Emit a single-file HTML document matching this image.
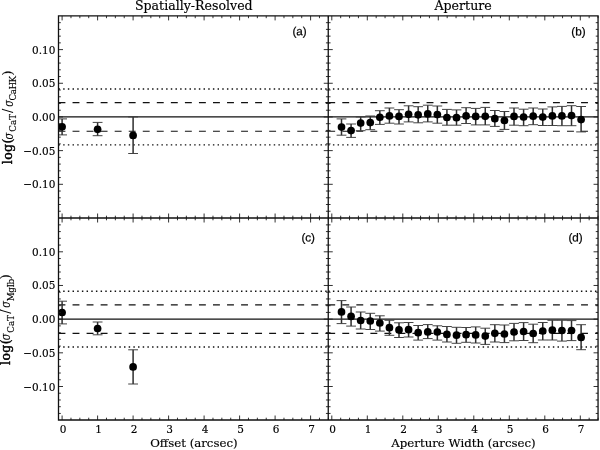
<!DOCTYPE html>
<html lang="en"><head><meta charset="utf-8"><title>Velocity dispersion ratios</title>
<style>html,body{margin:0;padding:0;background:#fff}body{width:600px;height:450px;overflow:hidden}svg{display:block}</style></head>
<body>
<svg width="600" height="450" viewBox="0 0 600 450">
<rect width="600" height="450" fill="#fff"/>
<path d="M58.5 116.95H328.25" stroke="#111" stroke-width="1.18" fill="none"/>
<path d="M58.5 102.67H328.25" stroke="#111" stroke-width="1.18" fill="none" stroke-dasharray="6.9 7.145"/>
<path d="M58.5 89.07H328.25" stroke="#111" fill="none" stroke-dasharray="1.45 3.229" stroke-width="1.4"/>
<path d="M58.5 131.23H328.25" stroke="#111" stroke-width="1.18" fill="none" stroke-dasharray="6.9 7.145"/>
<path d="M58.5 144.83H328.25" stroke="#111" fill="none" stroke-dasharray="1.45 3.229" stroke-width="1.4"/>
<path d="M58.5 319.15H328.25" stroke="#111" stroke-width="1.18" fill="none"/>
<path d="M58.5 304.87H328.25" stroke="#111" stroke-width="1.18" fill="none" stroke-dasharray="6.9 7.145"/>
<path d="M58.5 291.27H328.25" stroke="#111" fill="none" stroke-dasharray="1.45 3.229" stroke-width="1.4"/>
<path d="M58.5 333.43H328.25" stroke="#111" stroke-width="1.18" fill="none" stroke-dasharray="6.9 7.145"/>
<path d="M58.5 347.03H328.25" stroke="#111" fill="none" stroke-dasharray="1.45 3.229" stroke-width="1.4"/>
<path d="M328.25 116.95H598.05" stroke="#111" stroke-width="1.18" fill="none"/>
<path d="M328.25 102.67H598.05" stroke="#111" stroke-width="1.18" fill="none" stroke-dasharray="6.9 7.145"/>
<path d="M328.25 89.07H598.05" stroke="#111" fill="none" stroke-dasharray="1.45 3.229" stroke-width="1.4"/>
<path d="M328.25 131.23H598.05" stroke="#111" stroke-width="1.18" fill="none" stroke-dasharray="6.9 7.145"/>
<path d="M328.25 144.83H598.05" stroke="#111" fill="none" stroke-dasharray="1.45 3.229" stroke-width="1.4"/>
<path d="M328.25 319.15H598.05" stroke="#111" stroke-width="1.18" fill="none"/>
<path d="M328.25 304.87H598.05" stroke="#111" stroke-width="1.18" fill="none" stroke-dasharray="6.9 7.145"/>
<path d="M328.25 291.27H598.05" stroke="#111" fill="none" stroke-dasharray="1.45 3.229" stroke-width="1.4"/>
<path d="M328.25 333.43H598.05" stroke="#111" stroke-width="1.18" fill="none" stroke-dasharray="6.9 7.145"/>
<path d="M328.25 347.03H598.05" stroke="#111" fill="none" stroke-dasharray="1.45 3.229" stroke-width="1.4"/>
<clipPath id="cl"><rect x="58.5" y="15.9" width="269.75" height="404.1"/></clipPath>
<g clip-path="url(#cl)">
<path d="M62.1 118.9V134.9M97.6 122.4V135.7M133.1 116.9V153.5" stroke="#2e2e2e" stroke-width="1.5" fill="none"/>
<path d="M57.2 118.9H67M57.2 134.9H67M92.7 122.4H102.5M92.7 135.7H102.5M128.2 116.9H138M128.2 153.5H138" stroke="#3a3a3a" stroke-width="0.95" fill="none"/>
<g fill="#000"><circle cx="62.1" cy="126.8" r="3.85"/><circle cx="97.6" cy="129.3" r="3.85"/><circle cx="133.1" cy="135.4" r="3.85"/></g>
<path d="M62.1 301.2V323.9M97.6 322V334.8M133.1 349.8V384" stroke="#2e2e2e" stroke-width="1.5" fill="none"/>
<path d="M57.2 301.2H67M57.2 323.9H67M92.7 322H102.5M92.7 334.8H102.5M128.2 349.8H138M128.2 384H138" stroke="#3a3a3a" stroke-width="0.95" fill="none"/>
<g fill="#000"><circle cx="62.1" cy="312.5" r="3.85"/><circle cx="97.6" cy="328.5" r="3.85"/><circle cx="133.1" cy="366.9" r="3.85"/></g>
</g>
<path d="M341.5 118.9V135.2M351.08 124V137.4M360.67 116.9V130.7M370.25 116V129.7M379.84 110.7V124.4M389.42 108V123.2M399 109.7V124M408.59 105.8V121.9M418.17 106.7V122.8M427.76 105.2V121.9M437.34 106V123.2M446.92 109.4V125.2M456.51 109.9V125.2M466.09 107.7V123.5M475.68 108.4V124.9M485.26 107.4V124.9M494.84 110.5V126.4M504.43 111.5V129.4M514.01 108V125.2M523.6 109.2V125.7M533.18 108V124.7M542.76 109V125.5M552.35 106.9V125.5M561.93 106.4V125.7M571.52 105.7V125.7M581.1 106.5V131.9" stroke="#2e2e2e" stroke-width="1.5" fill="none"/>
<path d="M336.6 118.9H346.4M336.6 135.2H346.4M346.18 124H355.98M346.18 137.4H355.98M355.77 116.9H365.57M355.77 130.7H365.57M365.35 116H375.15M365.35 129.7H375.15M374.94 110.7H384.74M374.94 124.4H384.74M384.52 108H394.32M384.52 123.2H394.32M394.1 109.7H403.9M394.1 124H403.9M403.69 105.8H413.49M403.69 121.9H413.49M413.27 106.7H423.07M413.27 122.8H423.07M422.86 105.2H432.66M422.86 121.9H432.66M432.44 106H442.24M432.44 123.2H442.24M442.02 109.4H451.82M442.02 125.2H451.82M451.61 109.9H461.41M451.61 125.2H461.41M461.19 107.7H470.99M461.19 123.5H470.99M470.78 108.4H480.58M470.78 124.9H480.58M480.36 107.4H490.16M480.36 124.9H490.16M489.94 110.5H499.74M489.94 126.4H499.74M499.53 111.5H509.33M499.53 129.4H509.33M509.11 108H518.91M509.11 125.2H518.91M518.7 109.2H528.5M518.7 125.7H528.5M528.28 108H538.08M528.28 124.7H538.08M537.86 109H547.66M537.86 125.5H547.66M547.45 106.9H557.25M547.45 125.5H557.25M557.03 106.4H566.83M557.03 125.7H566.83M566.62 105.7H576.42M566.62 125.7H576.42M576.2 106.5H586M576.2 131.9H586" stroke="#3a3a3a" stroke-width="0.95" fill="none"/>
<g fill="#000"><circle cx="341.5" cy="127.1" r="3.85"/><circle cx="351.08" cy="130.6" r="3.85"/><circle cx="360.67" cy="123.1" r="3.85"/><circle cx="370.25" cy="122.6" r="3.85"/><circle cx="379.84" cy="117.3" r="3.85"/><circle cx="389.42" cy="115.9" r="3.85"/><circle cx="399" cy="116.4" r="3.85"/><circle cx="408.59" cy="114.3" r="3.85"/><circle cx="418.17" cy="114.8" r="3.85"/><circle cx="427.76" cy="113.9" r="3.85"/><circle cx="437.34" cy="114.6" r="3.85"/><circle cx="446.92" cy="117.5" r="3.85"/><circle cx="456.51" cy="117.7" r="3.85"/><circle cx="466.09" cy="115.9" r="3.85"/><circle cx="475.68" cy="116.4" r="3.85"/><circle cx="485.26" cy="116.3" r="3.85"/><circle cx="494.84" cy="118.7" r="3.85"/><circle cx="504.43" cy="120.5" r="3.85"/><circle cx="514.01" cy="116.4" r="3.85"/><circle cx="523.6" cy="117" r="3.85"/><circle cx="533.18" cy="116.2" r="3.85"/><circle cx="542.76" cy="117.1" r="3.85"/><circle cx="552.35" cy="115.9" r="3.85"/><circle cx="561.93" cy="115.9" r="3.85"/><circle cx="571.52" cy="115.6" r="3.85"/><circle cx="581.1" cy="119.6" r="3.85"/></g>
<path d="M341.5 300.6V323.6M351.08 307V326.1M360.67 312V329M370.25 313.3V329.5M379.84 315.8V331.1M389.42 320.3V335.3M399 322.8V337.5M408.59 322.5V337M418.17 325.5V340.1M427.76 324.6V338.6M437.34 325.8V340.1M446.92 326.5V342M456.51 327.3V343.3M466.09 327.5V342.3M475.68 326.9V343M485.26 328.2V344.4M494.84 324.7V342M504.43 325V342.6M514.01 323.4V340.8M523.6 322.6V340.5M533.18 324.2V342.7M542.76 322.5V340M552.35 320.3V340M561.93 320.3V341.1M571.52 320.6V340.6M581.1 324.7V349.7" stroke="#2e2e2e" stroke-width="1.5" fill="none"/>
<path d="M336.6 300.6H346.4M336.6 323.6H346.4M346.18 307H355.98M346.18 326.1H355.98M355.77 312H365.57M355.77 329H365.57M365.35 313.3H375.15M365.35 329.5H375.15M374.94 315.8H384.74M374.94 331.1H384.74M384.52 320.3H394.32M384.52 335.3H394.32M394.1 322.8H403.9M394.1 337.5H403.9M403.69 322.5H413.49M403.69 337H413.49M413.27 325.5H423.07M413.27 340.1H423.07M422.86 324.6H432.66M422.86 338.6H432.66M432.44 325.8H442.24M432.44 340.1H442.24M442.02 326.5H451.82M442.02 342H451.82M451.61 327.3H461.41M451.61 343.3H461.41M461.19 327.5H470.99M461.19 342.3H470.99M470.78 326.9H480.58M470.78 343H480.58M480.36 328.2H490.16M480.36 344.4H490.16M489.94 324.7H499.74M489.94 342H499.74M499.53 325H509.33M499.53 342.6H509.33M509.11 323.4H518.91M509.11 340.8H518.91M518.7 322.6H528.5M518.7 340.5H528.5M528.28 324.2H538.08M528.28 342.7H538.08M537.86 322.5H547.66M537.86 340H547.66M547.45 320.3H557.25M547.45 340H557.25M557.03 320.3H566.83M557.03 341.1H566.83M566.62 320.6H576.42M566.62 340.6H576.42M576.2 324.7H586M576.2 349.7H586" stroke="#3a3a3a" stroke-width="0.95" fill="none"/>
<g fill="#000"><circle cx="341.5" cy="311.9" r="3.85"/><circle cx="351.08" cy="316.4" r="3.85"/><circle cx="360.67" cy="320.5" r="3.85"/><circle cx="370.25" cy="321" r="3.85"/><circle cx="379.84" cy="323" r="3.85"/><circle cx="389.42" cy="327.7" r="3.85"/><circle cx="399" cy="329.9" r="3.85"/><circle cx="408.59" cy="329.7" r="3.85"/><circle cx="418.17" cy="332.7" r="3.85"/><circle cx="427.76" cy="331.9" r="3.85"/><circle cx="437.34" cy="332" r="3.85"/><circle cx="446.92" cy="334.4" r="3.85"/><circle cx="456.51" cy="335.2" r="3.85"/><circle cx="466.09" cy="334.7" r="3.85"/><circle cx="475.68" cy="334.9" r="3.85"/><circle cx="485.26" cy="336.1" r="3.85"/><circle cx="494.84" cy="333.3" r="3.85"/><circle cx="504.43" cy="334" r="3.85"/><circle cx="514.01" cy="332" r="3.85"/><circle cx="523.6" cy="331.5" r="3.85"/><circle cx="533.18" cy="333.5" r="3.85"/><circle cx="542.76" cy="331" r="3.85"/><circle cx="552.35" cy="330.2" r="3.85"/><circle cx="561.93" cy="330.5" r="3.85"/><circle cx="571.52" cy="330.5" r="3.85"/><circle cx="581.1" cy="337.4" r="3.85"/></g>
<path d="M62.1 15.9v4.5M62.1 213.5v9M62.1 420v-4.5M70.97 15.9v2.3M70.97 215.7v4.6M70.97 420v-2.3M79.85 15.9v2.3M79.85 215.7v4.6M79.85 420v-2.3M88.72 15.9v2.3M88.72 215.7v4.6M88.72 420v-2.3M97.6 15.9v4.5M97.6 213.5v9M97.6 420v-4.5M106.47 15.9v2.3M106.47 215.7v4.6M106.47 420v-2.3M115.35 15.9v2.3M115.35 215.7v4.6M115.35 420v-2.3M124.22 15.9v2.3M124.22 215.7v4.6M124.22 420v-2.3M133.1 15.9v4.5M133.1 213.5v9M133.1 420v-4.5M141.97 15.9v2.3M141.97 215.7v4.6M141.97 420v-2.3M150.85 15.9v2.3M150.85 215.7v4.6M150.85 420v-2.3M159.72 15.9v2.3M159.72 215.7v4.6M159.72 420v-2.3M168.6 15.9v4.5M168.6 213.5v9M168.6 420v-4.5M177.47 15.9v2.3M177.47 215.7v4.6M177.47 420v-2.3M186.35 15.9v2.3M186.35 215.7v4.6M186.35 420v-2.3M195.22 15.9v2.3M195.22 215.7v4.6M195.22 420v-2.3M204.1 15.9v4.5M204.1 213.5v9M204.1 420v-4.5M212.97 15.9v2.3M212.97 215.7v4.6M212.97 420v-2.3M221.85 15.9v2.3M221.85 215.7v4.6M221.85 420v-2.3M230.72 15.9v2.3M230.72 215.7v4.6M230.72 420v-2.3M239.6 15.9v4.5M239.6 213.5v9M239.6 420v-4.5M248.47 15.9v2.3M248.47 215.7v4.6M248.47 420v-2.3M257.35 15.9v2.3M257.35 215.7v4.6M257.35 420v-2.3M266.23 15.9v2.3M266.23 215.7v4.6M266.23 420v-2.3M275.1 15.9v4.5M275.1 213.5v9M275.1 420v-4.5M283.98 15.9v2.3M283.98 215.7v4.6M283.98 420v-2.3M292.85 15.9v2.3M292.85 215.7v4.6M292.85 420v-2.3M301.73 15.9v2.3M301.73 215.7v4.6M301.73 420v-2.3M310.6 15.9v4.5M310.6 213.5v9M310.6 420v-4.5M319.48 15.9v2.3M319.48 215.7v4.6M319.48 420v-2.3M328.35 15.9v2.3M328.35 215.7v4.6M328.35 420v-2.3M331.8 15.9v4.5M331.8 213.5v9M331.8 420v-4.5M340.68 15.9v2.3M340.68 215.7v4.6M340.68 420v-2.3M349.55 15.9v2.3M349.55 215.7v4.6M349.55 420v-2.3M358.43 15.9v2.3M358.43 215.7v4.6M358.43 420v-2.3M367.3 15.9v4.5M367.3 213.5v9M367.3 420v-4.5M376.18 15.9v2.3M376.18 215.7v4.6M376.18 420v-2.3M385.05 15.9v2.3M385.05 215.7v4.6M385.05 420v-2.3M393.93 15.9v2.3M393.93 215.7v4.6M393.93 420v-2.3M402.8 15.9v4.5M402.8 213.5v9M402.8 420v-4.5M411.68 15.9v2.3M411.68 215.7v4.6M411.68 420v-2.3M420.55 15.9v2.3M420.55 215.7v4.6M420.55 420v-2.3M429.43 15.9v2.3M429.43 215.7v4.6M429.43 420v-2.3M438.3 15.9v4.5M438.3 213.5v9M438.3 420v-4.5M447.18 15.9v2.3M447.18 215.7v4.6M447.18 420v-2.3M456.05 15.9v2.3M456.05 215.7v4.6M456.05 420v-2.3M464.93 15.9v2.3M464.93 215.7v4.6M464.93 420v-2.3M473.8 15.9v4.5M473.8 213.5v9M473.8 420v-4.5M482.68 15.9v2.3M482.68 215.7v4.6M482.68 420v-2.3M491.55 15.9v2.3M491.55 215.7v4.6M491.55 420v-2.3M500.43 15.9v2.3M500.43 215.7v4.6M500.43 420v-2.3M509.3 15.9v4.5M509.3 213.5v9M509.3 420v-4.5M518.17 15.9v2.3M518.17 215.7v4.6M518.17 420v-2.3M527.05 15.9v2.3M527.05 215.7v4.6M527.05 420v-2.3M535.92 15.9v2.3M535.92 215.7v4.6M535.92 420v-2.3M544.8 15.9v4.5M544.8 213.5v9M544.8 420v-4.5M553.67 15.9v2.3M553.67 215.7v4.6M553.67 420v-2.3M562.55 15.9v2.3M562.55 215.7v4.6M562.55 420v-2.3M571.42 15.9v2.3M571.42 215.7v4.6M571.42 420v-2.3M580.3 15.9v4.5M580.3 213.5v9M580.3 420v-4.5M589.17 15.9v2.3M589.17 215.7v4.6M589.17 420v-2.3M598.05 15.9v2.3M598.05 215.7v4.6M598.05 420v-2.3M58.5 211.24h2.3M325.95 211.24h4.6M598.05 211.24h-2.3M58.5 204.5h2.3M325.95 204.5h4.6M598.05 204.5h-2.3M58.5 197.77h2.3M325.95 197.77h4.6M598.05 197.77h-2.3M58.5 191.03h2.3M325.95 191.03h4.6M598.05 191.03h-2.3M58.5 184.3h4.5M323.75 184.3h9M598.05 184.3h-4.5M58.5 177.56h2.3M325.95 177.56h4.6M598.05 177.56h-2.3M58.5 170.83h2.3M325.95 170.83h4.6M598.05 170.83h-2.3M58.5 164.09h2.3M325.95 164.09h4.6M598.05 164.09h-2.3M58.5 157.36h2.3M325.95 157.36h4.6M598.05 157.36h-2.3M58.5 150.62h4.5M323.75 150.62h9M598.05 150.62h-4.5M58.5 143.89h2.3M325.95 143.89h4.6M598.05 143.89h-2.3M58.5 137.16h2.3M325.95 137.16h4.6M598.05 137.16h-2.3M58.5 130.42h2.3M325.95 130.42h4.6M598.05 130.42h-2.3M58.5 123.69h2.3M325.95 123.69h4.6M598.05 123.69h-2.3M58.5 116.95h4.5M323.75 116.95h9M598.05 116.95h-4.5M58.5 110.22h2.3M325.95 110.22h4.6M598.05 110.22h-2.3M58.5 103.48h2.3M325.95 103.48h4.6M598.05 103.48h-2.3M58.5 96.75h2.3M325.95 96.75h4.6M598.05 96.75h-2.3M58.5 90.01h2.3M325.95 90.01h4.6M598.05 90.01h-2.3M58.5 83.28h4.5M323.75 83.28h9M598.05 83.28h-4.5M58.5 76.54h2.3M325.95 76.54h4.6M598.05 76.54h-2.3M58.5 69.81h2.3M325.95 69.81h4.6M598.05 69.81h-2.3M58.5 63.07h2.3M325.95 63.07h4.6M598.05 63.07h-2.3M58.5 56.34h2.3M325.95 56.34h4.6M598.05 56.34h-2.3M58.5 49.6h4.5M323.75 49.6h9M598.05 49.6h-4.5M58.5 42.87h2.3M325.95 42.87h4.6M598.05 42.87h-2.3M58.5 36.13h2.3M325.95 36.13h4.6M598.05 36.13h-2.3M58.5 29.39h2.3M325.95 29.39h4.6M598.05 29.39h-2.3M58.5 22.66h2.3M325.95 22.66h4.6M598.05 22.66h-2.3M58.5 413.44h2.3M325.95 413.44h4.6M598.05 413.44h-2.3M58.5 406.7h2.3M325.95 406.7h4.6M598.05 406.7h-2.3M58.5 399.97h2.3M325.95 399.97h4.6M598.05 399.97h-2.3M58.5 393.23h2.3M325.95 393.23h4.6M598.05 393.23h-2.3M58.5 386.5h4.5M323.75 386.5h9M598.05 386.5h-4.5M58.5 379.76h2.3M325.95 379.76h4.6M598.05 379.76h-2.3M58.5 373.03h2.3M325.95 373.03h4.6M598.05 373.03h-2.3M58.5 366.29h2.3M325.95 366.29h4.6M598.05 366.29h-2.3M58.5 359.56h2.3M325.95 359.56h4.6M598.05 359.56h-2.3M58.5 352.82h4.5M323.75 352.82h9M598.05 352.82h-4.5M58.5 346.09h2.3M325.95 346.09h4.6M598.05 346.09h-2.3M58.5 339.35h2.3M325.95 339.35h4.6M598.05 339.35h-2.3M58.5 332.62h2.3M325.95 332.62h4.6M598.05 332.62h-2.3M58.5 325.88h2.3M325.95 325.88h4.6M598.05 325.88h-2.3M58.5 319.15h4.5M323.75 319.15h9M598.05 319.15h-4.5M58.5 312.41h2.3M325.95 312.41h4.6M598.05 312.41h-2.3M58.5 305.68h2.3M325.95 305.68h4.6M598.05 305.68h-2.3M58.5 298.94h2.3M325.95 298.94h4.6M598.05 298.94h-2.3M58.5 292.21h2.3M325.95 292.21h4.6M598.05 292.21h-2.3M58.5 285.47h4.5M323.75 285.47h9M598.05 285.47h-4.5M58.5 278.74h2.3M325.95 278.74h4.6M598.05 278.74h-2.3M58.5 272h2.3M325.95 272h4.6M598.05 272h-2.3M58.5 265.27h2.3M325.95 265.27h4.6M598.05 265.27h-2.3M58.5 258.53h2.3M325.95 258.53h4.6M598.05 258.53h-2.3M58.5 251.8h4.5M323.75 251.8h9M598.05 251.8h-4.5M58.5 245.06h2.3M325.95 245.06h4.6M598.05 245.06h-2.3M58.5 238.33h2.3M325.95 238.33h4.6M598.05 238.33h-2.3M58.5 231.59h2.3M325.95 231.59h4.6M598.05 231.59h-2.3M58.5 224.86h2.3M325.95 224.86h4.6M598.05 224.86h-2.3" stroke="#1c1c1c" stroke-width="0.9" fill="none"/>
<path d="M58.5 15.9H598.05V420.0H58.5Z M328.25 15.9V420.0 M58.5 218.0H598.05" stroke="#111" stroke-width="1.3" fill="none" stroke-linejoin="miter"/>
<g font-family="DejaVu Serif, Liberation Serif, serif" fill="#000" stroke="#000" stroke-width="0.15">
<text x="193.8" y="9.5" font-size="12.58" text-anchor="middle">Spatially-Resolved</text>
<text x="463.1" y="9.5" font-size="12.62" text-anchor="middle">Aperture</text>
<text x="193.9" y="447.2" font-size="11.75" text-anchor="middle">Offset (arcsec)</text>
<text x="463.5" y="447.2" font-size="11.75" text-anchor="middle">Aperture Width (arcsec)</text>
<text transform="translate(63 432.9) scale(1 1.05)" font-size="10.5" text-anchor="middle">0</text>
<text transform="translate(98.5 432.9) scale(1 1.05)" font-size="10.5" text-anchor="middle">1</text>
<text transform="translate(134 432.9) scale(1 1.05)" font-size="10.5" text-anchor="middle">2</text>
<text transform="translate(169.5 432.9) scale(1 1.05)" font-size="10.5" text-anchor="middle">3</text>
<text transform="translate(205 432.9) scale(1 1.05)" font-size="10.5" text-anchor="middle">4</text>
<text transform="translate(240.5 432.9) scale(1 1.05)" font-size="10.5" text-anchor="middle">5</text>
<text transform="translate(276 432.9) scale(1 1.05)" font-size="10.5" text-anchor="middle">6</text>
<text transform="translate(311.5 432.9) scale(1 1.05)" font-size="10.5" text-anchor="middle">7</text>
<text transform="translate(332.7 432.9) scale(1 1.05)" font-size="10.5" text-anchor="middle">0</text>
<text transform="translate(368.2 432.9) scale(1 1.05)" font-size="10.5" text-anchor="middle">1</text>
<text transform="translate(403.7 432.9) scale(1 1.05)" font-size="10.5" text-anchor="middle">2</text>
<text transform="translate(439.2 432.9) scale(1 1.05)" font-size="10.5" text-anchor="middle">3</text>
<text transform="translate(474.7 432.9) scale(1 1.05)" font-size="10.5" text-anchor="middle">4</text>
<text transform="translate(510.2 432.9) scale(1 1.05)" font-size="10.5" text-anchor="middle">5</text>
<text transform="translate(545.7 432.9) scale(1 1.05)" font-size="10.5" text-anchor="middle">6</text>
<text transform="translate(581.2 432.9) scale(1 1.05)" font-size="10.5" text-anchor="middle">7</text>
<text transform="translate(55.4 188.3) scale(1 1.06)" font-size="10.5" text-anchor="end">−0.10</text>
<text transform="translate(55.4 154.62) scale(1 1.06)" font-size="10.5" text-anchor="end">−0.05</text>
<text transform="translate(55.4 120.95) scale(1 1.06)" font-size="10.5" text-anchor="end">0.00</text>
<text transform="translate(55.4 87.28) scale(1 1.06)" font-size="10.5" text-anchor="end">0.05</text>
<text transform="translate(55.4 53.6) scale(1 1.06)" font-size="10.5" text-anchor="end">0.10</text>
<text transform="translate(55.4 390.5) scale(1 1.06)" font-size="10.5" text-anchor="end">−0.10</text>
<text transform="translate(55.4 356.82) scale(1 1.06)" font-size="10.5" text-anchor="end">−0.05</text>
<text transform="translate(55.4 323.15) scale(1 1.06)" font-size="10.5" text-anchor="end">0.00</text>
<text transform="translate(55.4 289.47) scale(1 1.06)" font-size="10.5" text-anchor="end">0.05</text>
<text transform="translate(55.4 255.8) scale(1 1.06)" font-size="10.5" text-anchor="end">0.10</text>
<text transform="translate(12.4 164.2) rotate(-90)" font-size="12.5" letter-spacing="0.38" stroke-width="0.45">log(</text><text transform="translate(12.5 139.55) rotate(-90) scale(0.8 1)" font-size="12.5" font-style="italic">σ</text><text transform="translate(16 131.83) rotate(-90)" font-size="8.8">CaT</text><text transform="translate(12.4 112.9) rotate(-90)" font-size="12.5">/</text><text transform="translate(12.5 106.85) rotate(-90) scale(0.8 1)" font-size="12.5" font-style="italic">σ</text><text transform="translate(16 100.38) rotate(-90)" font-size="8.8" letter-spacing="-0.55">CaHK</text><text transform="translate(12.4 75.47) rotate(-90)" font-size="12.5">)</text>
<text transform="translate(10 365) rotate(-90)" font-size="12.5" letter-spacing="0.38" stroke-width="0.45">log(</text><text transform="translate(10.1 340.35) rotate(-90) scale(0.8 1)" font-size="12.5" font-style="italic">σ</text><text transform="translate(13.6 332.63) rotate(-90)" font-size="8.8">CaT</text><text transform="translate(10 313.7) rotate(-90)" font-size="12.5">/</text><text transform="translate(10.1 307.65) rotate(-90) scale(0.8 1)" font-size="12.5" font-style="italic">σ</text><text transform="translate(13.6 301.18) rotate(-90)" font-size="8.8" letter-spacing="-0.5">MgIb</text><text transform="translate(10 279.37) rotate(-90)" font-size="12.5">)</text>
</g>
<g font-family="Liberation Sans, Arial, Helvetica, sans-serif" font-size="11.7" fill="#000" stroke="#000" stroke-width="0.22" text-anchor="middle">
<text transform="translate(299.6 35.3) rotate(0.03)">(a)</text>
<text transform="translate(578.5 35.4) rotate(0.03)">(b)</text>
<text transform="translate(308.2 241.4) rotate(0.03)">(c)</text>
<text transform="translate(575.6 241.4) rotate(0.03)">(d)</text>
</g>
</svg>
</body></html>
